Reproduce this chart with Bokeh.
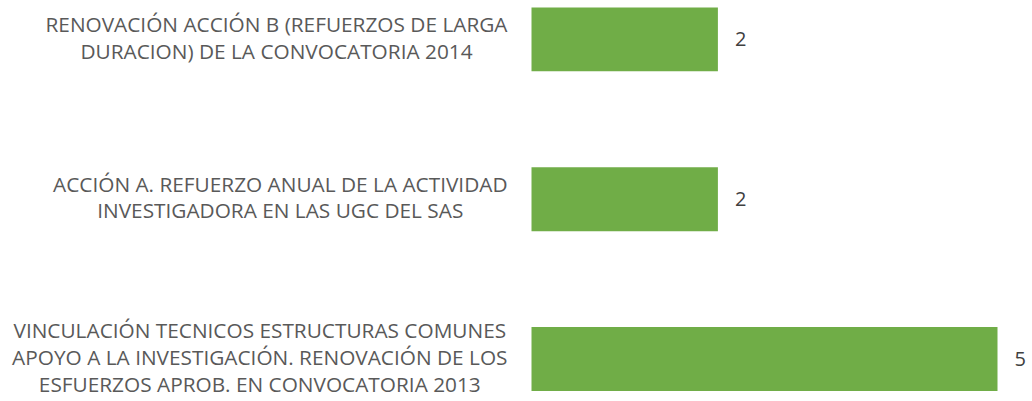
from bokeh.plotting import figure
from bokeh.models import ColumnDataSource, Range1d
from bokeh.core.properties import value
from bokeh.embed import file_html
from bokeh.resources import INLINE

categories = [
    "RENOVACIÓN ACCIÓN B (REFUERZOS DE LARGA\nDURACION) DE LA CONVOCATORIA 2014",
    "ACCIÓN A. REFUERZO ANUAL DE LA ACTIVIDAD\nINVESTIGADORA EN LAS UGC DEL SAS",
    "VINCULACIÓN TECNICOS ESTRUCTURAS COMUNES\nAPOYO A LA INVESTIGACIÓN. RENOVACIÓN DE LOS\nESFUERZOS APROB. EN CONVOCATORIA 2013",
]
values = [2, 2, 5]
positions = [2, 1, 0]

src = ColumnDataSource(dict(
    cat=categories, val=values, pos=positions,
    zero=[0] * len(values), lab=[str(v) for v in values],
))

W, H = 1032, 401
px_per_unit = 93.2
zero_px = 531
y_unit = 159.8
y0_px = 42.5
p = figure(width=W, height=H, output_backend="svg", toolbar_location=None,
           x_range=Range1d(-zero_px / px_per_unit, (W - zero_px) / px_per_unit),
           y_range=Range1d(-y0_px / y_unit, (H - y0_px) / y_unit),
           min_border=0)
p.axis.visible = False
p.grid.visible = False
p.outline_line_color = None
p.background_fill_color = "white"
p.border_fill_color = "white"

p.hbar(y="pos", left="zero", right="val", height=0.4, source=src,
       fill_color="#70AD47", line_color=None)

p.text(x="zero", y="pos", text="cat", source=src, x_offset=-24, y_offset=-2,
       anchor="center_right", text_align="center", text_baseline="middle",
       text_font=value("Open Sans"), text_font_size="20.8px",
       text_line_height=0.95, text_color="#595959")

p.text(x="val", y="pos", text="lab", source=src, x_offset=17,
       text_align="left", text_baseline="middle",
       text_font=value("Open Sans"), text_font_size="20px",
       text_color="#404040")

open("out.html", "w").write(file_html(p, INLINE))
